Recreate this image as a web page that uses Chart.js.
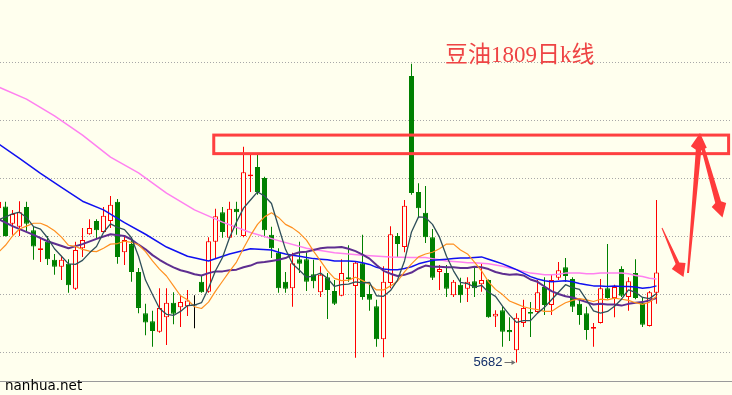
<!DOCTYPE html>
<html><head><meta charset="utf-8">
<script src="https://cdn.jsdelivr.net/npm/chart.js@4.4.1/dist/chart.umd.min.js"></script>
<style>html,body{margin:0;padding:0;background:#FFFFEE;overflow:hidden}#wrap{width:732px;height:395px}</style>
</head><body><div id="wrap"><canvas id="c" width="732" height="395"></canvas></div>
<script>
// Daily candles (first one is the partly hidden bar at the left edge)
const opens  = [5948,5951,5921,5916,5950,5910,5876,5890,5859,5847,5852,5809,5879,5903,5926,5907,5926,5959,5872,5886,5838,5767,5753,5735,5760,5785,5777,5779,5780,5821,5804,5890,5941,5897,5947,5900,6003,6019,6000,5902,5871,5821,5810,5860,5860,5834,5803,5829,5805,5797,5829,5814,5853,5800,5779,5722,5819,5900,5881,6176,5976,5940,5898,5838,5836,5798,5816,5809,5822,5817,5824,5761,5772,5738,5703,5750,5769,5769,5812,5781,5828,5846,5826,5783,5767,5740,5750,5810,5793,5843,5795,5836,5785,5745,5802];
const highs  = [5962,5959,5945,5960,5959,5917,5898,5900,5869,5866,5860,5890,5914,5929,5929,5950,5969,5964,5900,5893,5845,5783,5771,5810,5810,5803,5798,5807,5798,5831,5898,5947,5950,5959,5959,6054,6040,6040,6002,5916,5879,5838,5871,5890,5872,5859,5848,5836,5824,5860,5884,5856,5902,5816,5790,5848,5917,5905,5962,6197,5991,5986,5912,5850,5850,5824,5828,5829,5847,5853,5825,5772,5779,5760,5767,5790,5786,5824,5829,5834,5855,5862,5829,5793,5778,5750,5826,5886,5816,5848,5829,5860,5795,5805,5962];
const lows   = [5945,5899,5902,5900,5907,5859,5855,5850,5833,5824,5802,5807,5864,5902,5895,5906,5914,5852,5850,5821,5767,5729,5709,5733,5712,5748,5743,5762,5741,5802,5802,5862,5897,5896,5902,5898,5976,5971,5898,5862,5802,5802,5778,5836,5805,5810,5795,5757,5781,5796,5821,5690,5790,5771,5709,5691,5810,5864,5872,5971,5931,5888,5824,5807,5795,5795,5785,5786,5795,5804,5759,5743,5709,5719,5682,5743,5726,5767,5764,5764,5824,5821,5769,5747,5721,5709,5749,5792,5760,5795,5771,5791,5743,5744,5783];
const closes = [5959,5900,5938,5941,5921,5882,5879,5860,5847,5859,5815,5876,5893,5914,5910,5935,5954,5864,5893,5838,5776,5751,5736,5776,5785,5766,5786,5789,5780,5803,5891,5934,5907,5947,5941,6010,6006,5976,5910,5879,5810,5809,5853,5852,5821,5822,5833,5807,5783,5836,5826,5854,5795,5790,5722,5821,5903,5886,5952,5974,5948,5898,5828,5843,5809,5821,5798,5821,5810,5824,5760,5766,5735,5734,5759,5776,5766,5803,5781,5824,5841,5831,5778,5764,5738,5743,5810,5793,5812,5797,5822,5793,5747,5803,5837];

// Moving averages (null = not read at that bar)
const ma5  = [5928,5933,5938,5941,5932,5916,5912,5897,5878,5865,5852,5851,5858,5871,5882,5906,5921,5915,5911,5897,5865,5824,5799,5775,5765,5763,5770,5780,5781,5785,5810,5840,5863,5897,5924,5948,5962,5976,5969,5956,5916,5877,5852,5841,5829,5831,5836,5827,5813,5816,5817,5821,5819,5820,5797,5796,5806,5824,5857,5907,5933,5932,5920,5898,5865,5840,5820,5818,5812,5815,5803,5796,5779,5764,5751,5754,5754,5767,5777,5790,5803,5816,5811,5808,5790,5771,5767,5770,5779,5791,5807,5803,5794,5792,5801];
const ma10 = [5872,5884,5900,5912,5917,5922,5922,5917,5909,5898,5884,5882,5877,5874,5873,5879,5886,5887,5891,5889,5885,5873,5857,5843,5831,5814,5797,5790,5778,5775,5786,5805,5822,5839,5855,5879,5901,5920,5933,5940,5932,5920,5914,5905,5893,5874,5857,5840,5827,5823,5824,5829,5823,5817,5807,5807,5814,5822,5838,5852,5864,5869,5872,5878,5886,5886,5876,5869,5855,5840,5821,5808,5799,5788,5783,5778,5775,5773,5770,5770,5778,5785,5789,5792,5790,5787,5791,5790,5793,5791,5789,5785,5782,5786,5796];
const ma20 = [5929,null,5917,null,null,5902,null,5891,null,null,5879,null,5886,null,5895,null,5903,null,5900,5894,5885,5877,5867,5859,5852,5846,5841,5838,5834,5832,5836,5839,5839,5841,5842,5846,5849,5854,5855,5857,5859,5862,5868,5872,5873,5876,5879,5880,5880,5881,5878,5874,5868,5861,5850,5840,5835,5831,5833,5837,5844,5849,5847,5847,5846,5846,5845,5845,5847,5846,5843,5838,5835,5833,5834,5832,5825,5821,5813,5805,5800,5796,5794,5790,5786,5782,5783,5782,5782,5780,5783,5785,5786,5789,5793];
const ma40 = [6059,null,null,6034,null,null,6008,null,null,5984,null,null,5960,null,null,5945,null,null,5923,null,null,5903,null,null,5881,null,null,5865,null,null,5857,null,null,5869,null,null,5878,null,null,5876,5872,5869,5867,5865,5863,5861,5860,5859,5857,5857,5857,5856,5854,5851,5846,5843,5842,5842,5844,5847,5852,5855,5858,5859,5860,5861,5862,5862,5863,5864,5860,5856,5852,5847,5842,5836,5830,5826,5823,5821,5822,5823,5821,5818,5816,5814,5814,5813,5814,5813,5813,5812,5810,5811,5814];
const ma60 = [6157,null,null,null,6136,null,null,null,6107,null,null,null,6074,null,null,null,6036,null,null,null,6009,null,null,null,5974,null,null,null,5945,null,null,null,5924,null,null,null,5906,null,null,null,5892,null,null,null,5879,null,null,null,5871,null,null,null,5867,null,null,null,5864,null,null,5863,5863,5863,5861,5859,5857,5856,5855,5854,5854,5853,5852,5850,5848,5845,5842,5839,5836,5835,5833,5833,5834,5836,5836,5836,5835,5835,5836,5836,5836,5836,5835,5832,5830,5827,5826];

const gridStep = 100;
const yRange = [5650, 6306.9];
const zoneRange = [6042, 6074];     // red box (price band)
const zoneBars = [30.75, 104.3];    // red box (bar positions)
const titleText = '豆油1809日k线';
const siteText = 'nanhua.net';
const lowBar = 74;                  // bar carrying the marked low

const BG = '#FFFFEE', RED = '#FF0000', GREEN = '#008000';
const idx = opens.map((_, i) => i);
const kind = i => closes[i] > opens[i] ? 'up' : (closes[i] < opens[i] ? 'down' : 'flat');

const bodyData = idx.map(i => {
  let a = Math.min(opens[i], closes[i]), b = Math.max(opens[i], closes[i]);
  if (b - a < 1.8) b = a + 1.8;
  return {x: i, y: [a, b]};
});
const wickData = idx.map(i => ({x: i, y: [lows[i], highs[i]]}));
const bodyFill = idx.map(i => ({up: BG, down: GREEN, flat: '#000'})[kind(i)]);
const bodyLine = idx.map(i => ({up: RED, down: GREEN, flat: '#000'})[kind(i)]);
const wickCol = idx.map(i => ({up: RED, down: GREEN, flat: '#000'})[kind(i)]);
const pts = arr => arr.map((v, i) => v == null ? null : {x: i, y: v}).filter(Boolean);
const lineDs = (arr, color, w, order) => ({type: 'line', data: pts(arr), borderColor: color, borderWidth: w,
  pointRadius: 0, tension: 0, spanGaps: true, fill: false, order: order, borderJoinStyle: 'round'});

function taperArrow(ctx, x1, y1, x2, y2, w1, w2, hl, hw) {
  const dx = x2 - x1, dy = y2 - y1, L = Math.hypot(dx, dy), ux = dx / L, uy = dy / L, nx = -uy, ny = ux;
  const bx = x2 - ux * hl, by = y2 - uy * hl;
  ctx.beginPath();
  ctx.moveTo(x1 + nx * w1 / 2, y1 + ny * w1 / 2);
  ctx.lineTo(bx + nx * w2 / 2, by + ny * w2 / 2);
  ctx.lineTo(bx + nx * hw / 2 + ux * 3, by + ny * hw / 2 + uy * 3);
  ctx.lineTo(x2, y2);
  ctx.lineTo(bx - nx * hw / 2 + ux * 3, by - ny * hw / 2 + uy * 3);
  ctx.lineTo(bx - nx * w2 / 2, by - ny * w2 / 2);
  ctx.lineTo(x1 - nx * w1 / 2, y1 - ny * w1 / 2);
  ctx.closePath();
  ctx.fill();
}

const deco = {
  id: 'deco',
  beforeDraw(chart) {
    const c = chart.ctx; c.save(); c.fillStyle = BG; c.fillRect(0, 0, chart.width, chart.height); c.restore();
  },
  afterDraw(chart) {
    const c = chart.ctx, xs = chart.scales.x, ys = chart.scales.y, a = chart.chartArea;
    c.save();
    c.strokeStyle = '#9a9a9a'; c.lineWidth = 1;
    c.beginPath(); c.moveTo(0, Math.round(a.bottom) + 0.5); c.lineTo(chart.width, Math.round(a.bottom) + 0.5); c.stroke();
    c.strokeStyle = '#FF4040'; c.lineWidth = 3;
    const x0 = xs.getPixelForValue(zoneBars[0]), x1 = xs.getPixelForValue(zoneBars[1]);
    const y0 = ys.getPixelForValue(zoneRange[1]), y1 = ys.getPixelForValue(zoneRange[0]);
    c.strokeRect(x0, y0, x1 - x0, y1 - y0);
    c.fillStyle = '#FF3B3B';
    taperArrow(c, 662, 228, 683.5, 277, 1, 4, 15, 15);
    taperArrow(c, 688, 273, 700, 133, 2, 5.5, 17, 16);
    taperArrow(c, 700, 138, 722.5, 217.5, 3, 6, 16, 15);
    c.fillStyle = '#EE4444';
    c.font = '23px "Liberation Serif", "Noto Sans CJK SC", serif';
    c.textBaseline = 'alphabetic';
    c.fillText(titleText, 445, 62);
    const lx = xs.getPixelForValue(lowBar), ly = ys.getPixelForValue(lows[lowBar]);
    c.font = '13px "Liberation Sans", Arial, sans-serif';
    c.fillStyle = '#14306a';
    c.textAlign = 'right'; c.textBaseline = 'middle';
    c.fillText(String(lows[lowBar]), lx - 14, ly);
    c.strokeStyle = '#707070'; c.lineWidth = 1;
    c.beginPath(); c.moveTo(lx - 12, Math.round(ly) + 0.5); c.lineTo(lx - 2, Math.round(ly) + 0.5); c.stroke();
    c.fillStyle = '#707070';
    c.beginPath(); c.moveTo(lx - 1, Math.round(ly) + 0.5); c.lineTo(lx - 5, Math.round(ly) - 2); c.lineTo(lx - 5, Math.round(ly) + 3); c.closePath(); c.fill();
    c.textAlign = 'left'; c.textBaseline = 'alphabetic';
    c.fillStyle = '#000';
    c.font = '13.5px "DejaVu Sans", sans-serif';
    c.fillText(siteText, 5, 390);
    c.restore();
  }
};

const xMin = 1.5 / 7, xMax = 1.5 / 7 + 732 / 7;
new Chart(document.getElementById('c'), {
  type: 'bar',
  data: {
    datasets: [
      lineDs(ma5, '#2F4F5A', 1.3, 1),
      lineDs(ma10, '#FF9020', 1.2, 2),
      lineDs(ma20, '#5E2E90', 2, 3),
      lineDs(ma40, '#1010F0', 1.5, 4),
      lineDs(ma60, '#FF80F0', 1.5, 5),
      {type: 'bar', data: bodyData, backgroundColor: bodyFill, borderColor: bodyLine, borderWidth: 1,
        borderSkipped: false, barThickness: 5, grouped: false, inflateAmount: 0, order: 10},
      {type: 'bar', data: wickData, backgroundColor: wickCol, borderWidth: 0,
        borderSkipped: false, barThickness: 1, grouped: false, inflateAmount: 0, order: 20}
    ]
  },
  options: {
    responsive: false, animation: false, devicePixelRatio: 1,
    layout: {padding: {left: 0, right: 0, top: 0, bottom: 14}},
    plugins: {legend: {display: false}, tooltip: {enabled: false}},
    scales: {
      x: {type: 'linear', min: xMin, max: xMax, display: false, offset: false, grid: {offset: false}},
      y: {type: 'linear', min: yRange[0], max: yRange[1], afterFit(s) { s.width = 0; },
        ticks: {display: false, stepSize: gridStep},
        grid: {drawTicks: false, lineWidth: 1,
          color: ctx => (ctx.tick && Math.abs(ctx.tick.value % gridStep) < 0.01 && ctx.tick.value > yRange[0]) ? '#A8A8A8' : 'rgba(0,0,0,0)'},
        border: {display: false, dash: [1, 2]}}
    }
  },
  plugins: [deco]
});
</script></body></html>
